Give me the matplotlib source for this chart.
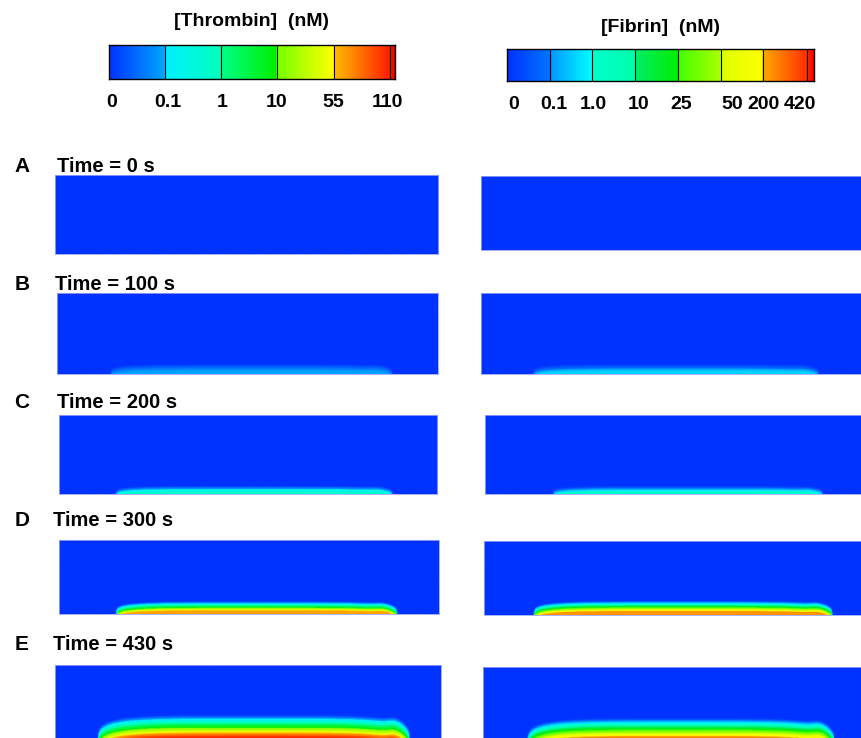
import numpy as np
import matplotlib
matplotlib.use("Agg")
import matplotlib.pyplot as plt
from matplotlib.colors import LinearSegmentedColormap

plt.rcParams['font.family'] = ['Liberation Sans', 'DejaVu Sans']
plt.rcParams['font.weight'] = 'bold'

W, H = 861, 738

# data
panel_labels = ["A", "B", "C", "D", "E"]
times = [0, 100, 200, 300, 430]

thr_ticks = ["0", "0.1", "1", "10", "55", "110"]
fib_ticks = ["0", "0.1", "1.0", "10", "25", "50", "200", "420"]

# clot extent (fraction of panel width / height) and peak level (fraction of colour bar)
thr_start = [0.0, 0.14, 0.15, 0.15, 0.11]
thr_end = [0.0, 0.88, 0.88, 0.89, 0.92]
thr_thick = [0.0, 0.12, 0.10, 0.17, 0.37]
thr_peak = [0.0, 0.19, 0.34, 0.82, 0.98]

fib_start = [0.0, 0.136, 0.177, 0.13, 0.115]
fib_end = [0.0, 0.88, 0.88, 0.91, 0.916]
fib_thick = [0.0, 0.12, 0.10, 0.19, 0.36]
fib_peak = [0.0, 0.22, 0.30, 0.86, 0.98]

# colour maps (positions along the bar)
thr_cmap = LinearSegmentedColormap.from_list("thr", [
    (0.0, "#0033ff"), (0.195, "#00a8ff"), (0.197, "#00f0ff"), (0.39, "#00ffbb"),
    (0.393, "#00ff88"), (0.585, "#00ee00"), (0.59, "#77ff00"), (0.785, "#ffff00"),
    (0.79, "#ffbb00"), (0.98, "#ff2200"), (1.0, "#ee0000")])
fib_cmap = LinearSegmentedColormap.from_list("fib", [
    (0.0, "#0033ff"), (0.14, "#0077ff"), (0.142, "#0099ff"), (0.277, "#00ffff"),
    (0.279, "#00ffcc"), (0.417, "#00ffaa"), (0.419, "#00ee66"), (0.557, "#00ee00"),
    (0.559, "#44ff00"), (0.697, "#aaff00"), (0.699, "#ddff00"), (0.834, "#ffff00"),
    (0.836, "#ffaa00"), (0.975, "#ff3300"), (1.0, "#ff0000")])

thr_bounds = [0.196, 0.392, 0.587, 0.787, 0.982]
fib_bounds = [0.14, 0.277, 0.417, 0.557, 0.697, 0.834, 0.977]
thr_tick_pos = [0.01, 0.206, 0.395, 0.587, 0.783, 0.975]
fib_tick_pos = [0.023, 0.153, 0.28, 0.427, 0.567, 0.733, 0.837, 0.954]


def add_ax(x0, y0, x1, y1):
    return fig.add_axes([x0 / W, 1 - y1 / H, (x1 - x0) / W, (y1 - y0) / H])


def clot_field(s, e, t, peak, nx=500, ny=160):
    x = np.linspace(0, 1, nx)
    y = np.linspace(0, 1, ny)
    X, Y = np.meshgrid(x, y)
    if peak <= 0:
        return np.zeros_like(X)
    c, hw = (s + e) / 2, (e - s) / 2
    u = np.clip(np.abs((X - c) / hw), 0, 1)
    h = t * (1 - u ** 5) ** (1 / 5)
    # small lip at the downstream end
    h = h * (1 + 0.12 * np.exp(-((X - (e - 0.035)) / 0.025) ** 2))
    r = np.clip((h - Y) / (0.75 * t), 0, 1)
    return peak * r ** 0.9


def colorbar(x0, y0, x1, y1, cmap, bounds, tpos, tlabels, title, ty):
    ax = add_ax(x0, y0, x1, y1)
    grad = np.linspace(0, 1, 400)[None, :]
    ax.imshow(grad, aspect='auto', cmap=cmap, extent=[0, 1, 0, 1])
    for b in bounds:
        ax.axvline(b, color='k', lw=0.8)
    ax.set_yticks([])
    ax.set_xticks(tpos)
    ax.set_xticklabels(tlabels, fontsize=14, fontweight='bold')
    ax.tick_params(axis='x', length=0, pad=11)
    for sp in ax.spines.values():
        sp.set_linewidth(1.0)
    fig.text((x0 + x1) / 2 / W, 1 - ty / H, title, ha='center', va='center',
             fontsize=14, fontweight='bold')


fig = plt.figure(figsize=(W / 100, H / 100), dpi=100)

colorbar(109, 45, 395, 79, thr_cmap, thr_bounds, thr_tick_pos, thr_ticks,
         "[Thrombin]  (nM)", 22)
colorbar(507, 49, 814, 81, fib_cmap, fib_bounds, fib_tick_pos, fib_ticks,
         "[Fibrin]  (nM)", 28)

# panel boxes in pixels
left_x = [(55, 438), (57, 438), (59, 437), (59, 439), (55, 441)]
right_x = [481, 481, 485, 484, 483]
rows_y = [(175, 254), (293, 374), (415, 494), (540, 614), (665, 745)]
right_y = [(176, 250), (293, 374), (415, 494), (541, 615), (667, 747)]
label_y = [166, 284, 402, 520, 645]
time_x = [57, 55, 57, 53, 53]

for i in range(5):
    lx0, lx1 = left_x[i]
    ty0, ty1 = rows_y[i]
    axl = add_ax(lx0, ty0, lx1, ty1)
    f = clot_field(thr_start[i], thr_end[i], thr_thick[i], thr_peak[i])
    axl.imshow(f, origin='lower', aspect='auto', cmap=thr_cmap, vmin=0, vmax=1,
               extent=[0, 1, 0, 1], interpolation='bilinear')

    ry0, ry1 = right_y[i]
    axr = add_ax(right_x[i], ry0, right_x[i] + 383, ry1)
    f = clot_field(fib_start[i], fib_end[i], fib_thick[i], fib_peak[i])
    axr.imshow(f, origin='lower', aspect='auto', cmap=fib_cmap, vmin=0, vmax=1,
               extent=[0, 1, 0, 1], interpolation='bilinear')

    for ax in (axl, axr):
        ax.set_xticks([])
        ax.set_yticks([])
        for sp in ax.spines.values():
            sp.set_color('#9aa4ff')
            sp.set_linewidth(0.6)

    fig.text(22 / W, 1 - label_y[i] / H, panel_labels[i], ha='center', va='center',
             fontsize=15, fontweight='bold')
    fig.text(time_x[i] / W, 1 - label_y[i] / H, "Time = %d s" % times[i],
             ha='left', va='center', fontsize=14.5, fontweight='bold')

fig.savefig("out.png", dpi=100)
